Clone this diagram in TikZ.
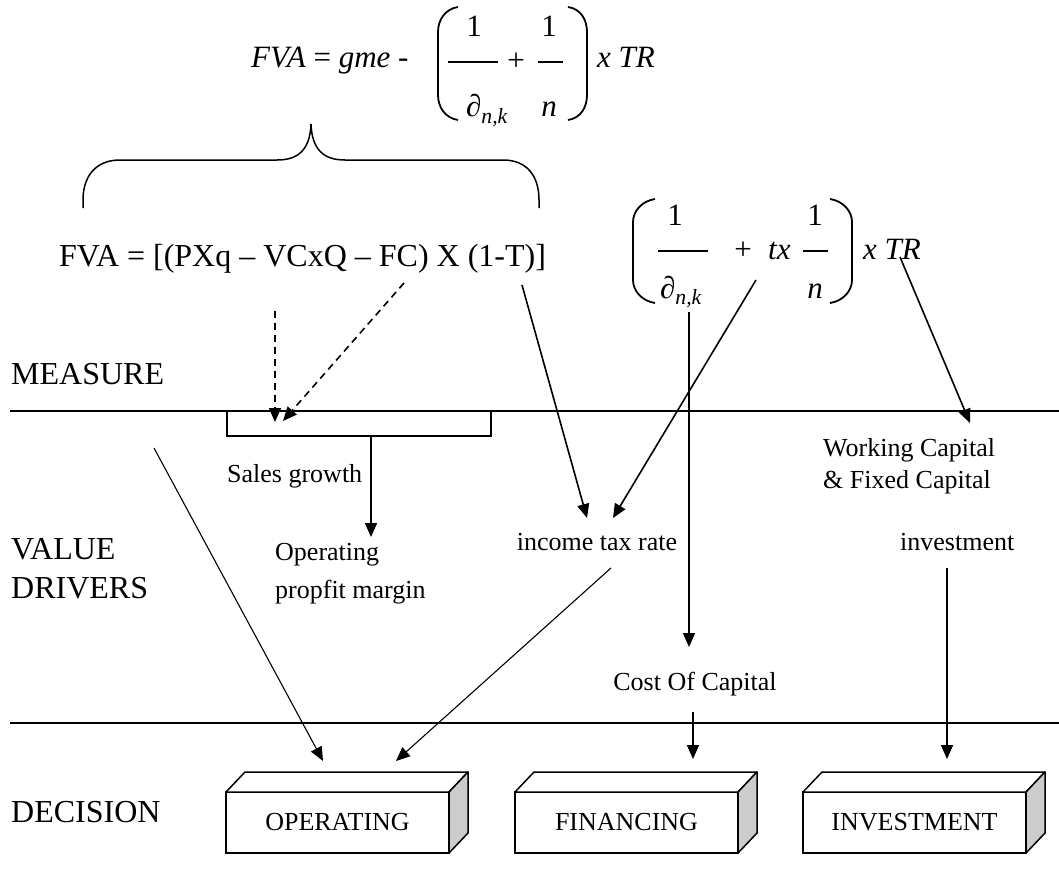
\documentclass[tikz,border=0pt]{standalone}
\usepackage{fontspec}
\setmainfont{Liberation Serif}
\usetikzlibrary{arrows.meta}
\definecolor{sidegray}{RGB}{204,204,204}
\begin{document}
\begin{tikzpicture}[x=1pt,y=-1pt,
  lbl/.style={inner sep=0pt, font=\fontsize{26}{32}\selectfont},
  big/.style={inner sep=0pt, font=\fontsize{32}{39}\selectfont},
  frm/.style={inner sep=0pt, font=\fontsize{31}{37}\selectfont\itshape},
  frmup/.style={inner sep=0pt, font=\fontsize{31}{37}\selectfont},
  hline/.style={line width=1.6pt},
  bar/.style={line width=1.5pt},
  tip/.style={-{Triangle[length=14pt,width=12pt]}},
  arr/.style={line width=1.6pt, tip},
  thinarr/.style={line width=1.1pt, tip},
  dasharr/.style={line width=1.6pt, dash pattern=on 7pt off 5pt, tip},
  paren/.style={line width=1.8pt},
  brace/.style={line width=1.5pt},
  boxfront/.style={draw, line width=1.5pt, fill=white, lbl, inner sep=0pt, outer sep=0pt, minimum width=223pt, minimum height=61pt, anchor=north west},
  boxface/.style={draw, line width=1.5pt, fill=white, line join=round},
  boxside/.style={draw, line width=1.5pt, fill=sidegray, line join=round},
]
\useasboundingbox (0,0) rectangle (1059,888);

% ---------- top formula ----------
\node (tfva) [frm, anchor=base west] at (251,68) {FVA \textup{=} gme \textup{-}};
\draw[paren] (458,7) .. controls (445,9) and (438,20) .. (438,32) -- (438,95) .. controls (438,107) and (445,118) .. (458,120);
\draw[paren] (568,7) .. controls (581,9) and (587,20) .. (587,32) -- (587,95) .. controls (587,107) and (581,118) .. (568,120);
\node (tn1) [frmup, anchor=base] at (474,37) {1};
\draw[bar] (448,62) -- (498,62);
\node (tplus) [frmup] at (516,62) {+};
\node (tn2) [frmup, anchor=base] at (549,37) {1};
\draw[bar] (538,62) -- (563,62);
\node (td1) [frm, anchor=base] at (487,117) {∂\textsubscript{n,k}};
\node (td2) [frm, anchor=base] at (549,117) {n};
\node (ttr) [frm, anchor=base west] at (597,68) {x TR};

% ---------- brace ----------
\draw[brace] (83,208) -- (83,200) .. controls (83,176) and (96,160) .. (120,160) -- (277,160)
  .. controls (298,160) and (310,150) .. (311,124)
  .. controls (312,150) and (324,160) .. (345,160) -- (503,160)
  .. controls (527,160) and (539,176) .. (539,200) -- (539,208);

% ---------- second formula ----------
\node (fva2) [big, anchor=base west] at (59,266) {FVA = [(PXq – VCxQ – FC) X (1-T)]};

% ---------- right formula ----------
\draw[paren] (655,199) .. controls (642,201) and (633,211) .. (633,222) -- (633,280) .. controls (633,291) and (642,301) .. (655,303);
\draw[paren] (830,199) .. controls (843,201) and (852,211) .. (852,222) -- (852,280) .. controls (852,291) and (843,301) .. (830,303);
\node (rn1) [frmup, anchor=base] at (675,225) {1};
\draw[bar] (658,251) -- (708,251);
\node (rd1) [frm, anchor=base] at (681,298) {∂\textsubscript{n,k}};
\node (rplus) [frmup] at (743,251) {+};
\node (rtx) [frm, anchor=base west] at (768,259) {tx};
\node (rn2) [frmup, anchor=base] at (815,225) {1};
\draw[bar] (803,251) -- (828,251);
\node (rn) [frm, anchor=base] at (815,298) {n};
\node (rtr) [frm, anchor=base west] at (863,259) {x TR};

% ---------- level labels ----------
\node (measure) [big, anchor=base west] at (11,384) {MEASURE};
\node (value1) [big, anchor=base west] at (11,559) {VALUE};
\node (value2) [big, anchor=base west] at (11,598) {DRIVERS};
\node (decision) [big, anchor=base west] at (11,822) {DECISION};

% ---------- separator lines ----------
\coordinate (l1a) at (10,411); \coordinate (l1b) at (1059,411);
\coordinate (l2a) at (10,723); \coordinate (l2b) at (1059,723);
\draw[hline] (l1a) -- (l1b);
\draw[hline] (l2a) -- (l2b);

% ---------- value drivers ----------
\node (sg) [draw, line width=1.3pt, inner sep=0pt, outer sep=0pt, minimum width=264pt, minimum height=25pt, anchor=north west] at (227,411) {};
\node (sgtext) [lbl, anchor=base west] at (227,482) {Sales growth};
\node (opm1) [lbl, anchor=base west] at (275,560) {Operating};
\node (opm2) [lbl, anchor=base west] at (275,598) {propfit margin};
\node (itr) [lbl, anchor=base] at (597,550) {income tax rate};
\node (wc1t) [lbl, anchor=base west] at (823,456) {Working Capital};
\node (wc2t) [lbl, anchor=base west] at (823,488) {\& Fixed Capital};
\node (inv) [lbl, anchor=base west] at (900,550) {investment};
\node (coc) [lbl, anchor=base] at (695,690) {Cost Of Capital};

% ---------- decision boxes ----------
\node (op) [boxfront] at (226,792) {OPERATING};
\draw[boxface] (op.north west) -- ++(19,-20) -- ++(223,0) -- (op.north east) -- cycle;
\draw[boxside] (op.north east) -- ++(19,-20) -- ++(0,61) -- (op.south east) -- cycle;
\node (fin) [boxfront] at (515,792) {FINANCING};
\draw[boxface] (fin.north west) -- ++(19,-20) -- ++(223,0) -- (fin.north east) -- cycle;
\draw[boxside] (fin.north east) -- ++(19,-20) -- ++(0,61) -- (fin.south east) -- cycle;
\node (invb) [boxfront] at (803,792) {INVESTMENT};
\draw[boxface] (invb.north west) -- ++(19,-20) -- ++(223,0) -- (invb.north east) -- cycle;
\draw[boxside] (invb.north east) -- ++(19,-20) -- ++(0,61) -- (invb.south east) -- cycle;

% ---------- connector end points ----------
\coordinate (d1s) at (275,311);  \coordinate (d1e) at (275,422);
\coordinate (d2s) at (404,283);  \coordinate (d2e) at (283,421);
\coordinate (fvaend) at (522,285); \coordinate (itr1) at (587,518);
\coordinate (txs) at (756,280);  \coordinate (itr2) at (613,518);
\coordinate (dks) at (689,312);  \coordinate (coc1) at (689,647);
\coordinate (trs) at (900,257);  \coordinate (wc1) at (970,423);
\coordinate (sgb) at (371,436);  \coordinate (opm) at (371,537);
\coordinate (ls) at (154,448);   \coordinate (op1) at (323,761);
\coordinate (its) at (611,568);  \coordinate (op2) at (396,761);
\coordinate (cocs) at (693,712); \coordinate (fin1) at (693,759);
\coordinate (invs) at (947,568); \coordinate (inv1) at (947,759);

% ---------- connectors ----------
\draw[dasharr] (d1s) -- (d1e);
\draw[dasharr] (d2s) -- (d2e);
\draw[arr] (fvaend) -- (itr1);
\draw[arr] (txs) -- (itr2);
\draw[arr] (dks) -- (coc1);
\draw[arr] (trs) -- (wc1);
\draw[arr] (sgb) -- (opm);
\draw[thinarr] (ls) -- (op1);
\draw[thinarr] (its) -- (op2);
\draw[arr] (cocs) -- (fin1);
\draw[arr] (invs) -- (inv1);
\end{tikzpicture}
\end{document}
